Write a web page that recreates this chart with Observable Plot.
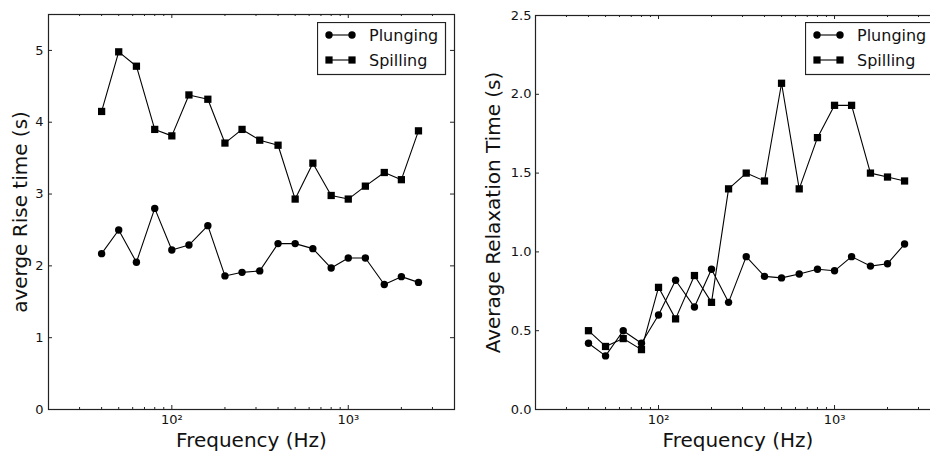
<!DOCTYPE html>
<html><head><meta charset="utf-8">
<script src="https://cdn.jsdelivr.net/npm/d3@7"></script>
<script src="https://cdn.jsdelivr.net/npm/@observablehq/plot@0.6"></script>
<style>
body{margin:0;background:#fff;font-family:"DejaVu Sans",sans-serif;}
#wrap{position:relative;width:930px;height:455px;overflow:hidden;background:#fff;}
.panel{position:absolute;top:0;font-family:"DejaVu Sans",sans-serif;}
.panel text{font-family:"DejaVu Sans",sans-serif;}
.panel g[aria-label$="tick label"]{font-size:13px !important;}
.panel g[aria-label$="tick label"] text{font-size:13px !important;}
</style></head><body><div id="wrap"></div>
<script>
// Data (1/3-octave band centre frequencies, Hz)
const freqs = [40, 50, 63, 80, 100, 125, 160, 200, 250, 315, 400, 500, 630, 800, 1000, 1250, 1600, 2000, 2500];
const seriesNames = ["Plunging", "Spilling"];
const risePlunging = [2.17, 2.50, 2.05, 2.80, 2.22, 2.29, 2.56, 1.86, 1.91, 1.93, 2.31, 2.31, 2.24, 1.97, 2.11, 2.11, 1.74, 1.85, 1.77];
const riseSpilling = [4.15, 4.98, 4.78, 3.90, 3.81, 4.38, 4.32, 3.71, 3.90, 3.75, 3.68, 2.93, 3.43, 2.98, 2.93, 3.11, 3.30, 3.20, 3.88];
const relaxPlunging = [0.42, 0.34, 0.50, 0.42, 0.60, 0.82, 0.65, 0.89, 0.68, 0.97, 0.845, 0.835, 0.86, 0.89, 0.88, 0.97, 0.91, 0.925, 1.05];
const relaxSpilling = [0.50, 0.40, 0.45, 0.38, 0.775, 0.575, 0.85, 0.68, 1.40, 1.50, 1.45, 2.07, 1.40, 1.725, 1.93, 1.93, 1.50, 1.475, 1.45];
const majorX = [100, 1000];
const majorXLabels = ["10²", "10³"];
const minorX = [20, 30, 40, 50, 60, 70, 80, 90, 200, 300, 400, 500, 600, 700, 800, 900, 2000, 3000, 4000];
const riseYTicks = [0, 1, 2, 3, 4, 5];
const relaxYTicks = [0, 0.5, 1, 1.5, 2, 2.5];
const riseYLabel = "averge Rise time (s)";
const relaxYLabel = "Average Relaxation Time (s)";
const xLabel = "Frequency (Hz)";

const FONT = "DejaVu Sans";

function panel({plunging, spilling, yDomain, yTicks, yFormat, yLabel, width, marginLeft, marginRight, marginTop, labelDx, yTickPad}) {
  const rows = freqs.flatMap((f, i) => [
    {f, v: plunging[i], s: seriesNames[0]},
    {f, v: spilling[i], s: seriesNames[1]}
  ]);
  const height = 455, marginBottom = 46;
  const iw = width - marginLeft - marginRight, ih = height - marginTop - marginBottom;
  const tc = "#222";
  return Plot.plot({
    width, height, marginLeft, marginRight, marginTop, marginBottom,
    style: {fontFamily: FONT, fontSize: "13px", color: "#111", background: "white", overflow: "visible"},
    x: {type: "log", domain: [20, 4000]},
    y: {domain: yDomain},
    marks: [
      Plot.line(rows, {x: "f", y: "v", z: "s", stroke: "#000", strokeWidth: 1.1}),
      Plot.dot(rows.filter(d => d.s === seriesNames[0]), {x: "f", y: "v", r: 3.7, fill: "#000", symbol: "circle"}),
      Plot.dot(rows.filter(d => d.s === seriesNames[1]), {x: "f", y: "v", r: 4.1, fill: "#000", symbol: "square"}),
      Plot.tickX(majorX, {x: d => d, insetTop: ih - 4, stroke: tc}),
      Plot.tickX(majorX, {x: d => d, insetBottom: ih - 4, stroke: tc}),
      Plot.tickX(minorX, {x: d => d, insetTop: ih - 2, stroke: tc}),
      Plot.tickX(minorX, {x: d => d, insetBottom: ih - 2, stroke: tc}),
      Plot.tickY(yTicks, {y: d => d, insetRight: iw - 4, stroke: tc}),
      Plot.tickY(yTicks, {y: d => d, insetLeft: iw - 4, stroke: tc}),
      Plot.axisX(majorX, {tickSize: 0, tickPadding: 5, tickFormat: d => majorXLabels[majorX.indexOf(d)], label: null,
        fontSize: 13, fontFamily: FONT, fill: "#111"}),
      Plot.axisY(yTicks, {tickSize: 0, tickPadding: yTickPad, tickFormat: yFormat, label: null,
        fontSize: 13, fontFamily: FONT, fill: "#111"}),
      Plot.frame({stroke: tc, strokeWidth: 1.2}),
      Plot.text([yLabel], {text: d => d, frameAnchor: "left", dx: labelDx, rotate: -90, textAnchor: "middle", lineAnchor: "middle",
        fontSize: 20, fontFamily: FONT, fill: "#111"}),
      Plot.text([xLabel], {text: d => d, frameAnchor: "bottom", dy: 31, textAnchor: "middle", lineAnchor: "middle",
        fontSize: 20, fontFamily: FONT, fill: "#111"})
    ]
  });
}

function legend(left) {
  const svg = d3.create("svg").attr("width", 130).attr("height", 54)
    .style("position", "absolute").style("left", left + "px").style("top", "22px");
  svg.append("rect").attr("x", 0.5).attr("y", 0.5).attr("width", 128).attr("height", 52)
    .attr("fill", "white").attr("stroke", "#222").attr("stroke-width", 1.2);
  seriesNames.forEach((name, i) => {
    const y = 13 + i * 25;
    svg.append("line").attr("x1", 12).attr("x2", 35).attr("y1", y).attr("y2", y).attr("stroke", "#000").attr("stroke-width", 1.1);
    [12, 35].forEach(x => {
      if (i === 0) svg.append("circle").attr("cx", x).attr("cy", y).attr("r", 3.7).attr("fill", "#000");
      else svg.append("rect").attr("x", x - 3.6).attr("y", y - 3.6).attr("width", 7.2).attr("height", 7.2).attr("fill", "#000");
    });
    svg.append("text").attr("x", 52).attr("y", y).attr("dy", "0.35em")
      .attr("font-family", FONT).attr("font-size", 16).attr("fill", "#111").text(name);
  });
  return svg.node();
}

const wrap = document.getElementById("wrap");
const left = panel({plunging: risePlunging, spilling: riseSpilling, yDomain: [0, 5.5], yTicks: riseYTicks,
  yFormat: d => String(d), yLabel: riseYLabel, width: 465, marginLeft: 48, marginRight: 11, marginTop: 14, labelDx: -28, yTickPad: 5});
left.classList.add("panel"); left.style.left = "0px";
const right = panel({plunging: relaxPlunging, spilling: relaxSpilling, yDomain: [0, 2.5], yTicks: relaxYTicks,
  yFormat: d => d.toFixed(1), yLabel: relaxYLabel, width: 476, marginLeft: 70, marginRight: 1, marginTop: 15, labelDx: -42, yTickPad: 4});
right.classList.add("panel"); right.style.left = "465px";
wrap.appendChild(left);
wrap.appendChild(right);
wrap.appendChild(legend(317));
wrap.appendChild(legend(805));
</script></body></html>
